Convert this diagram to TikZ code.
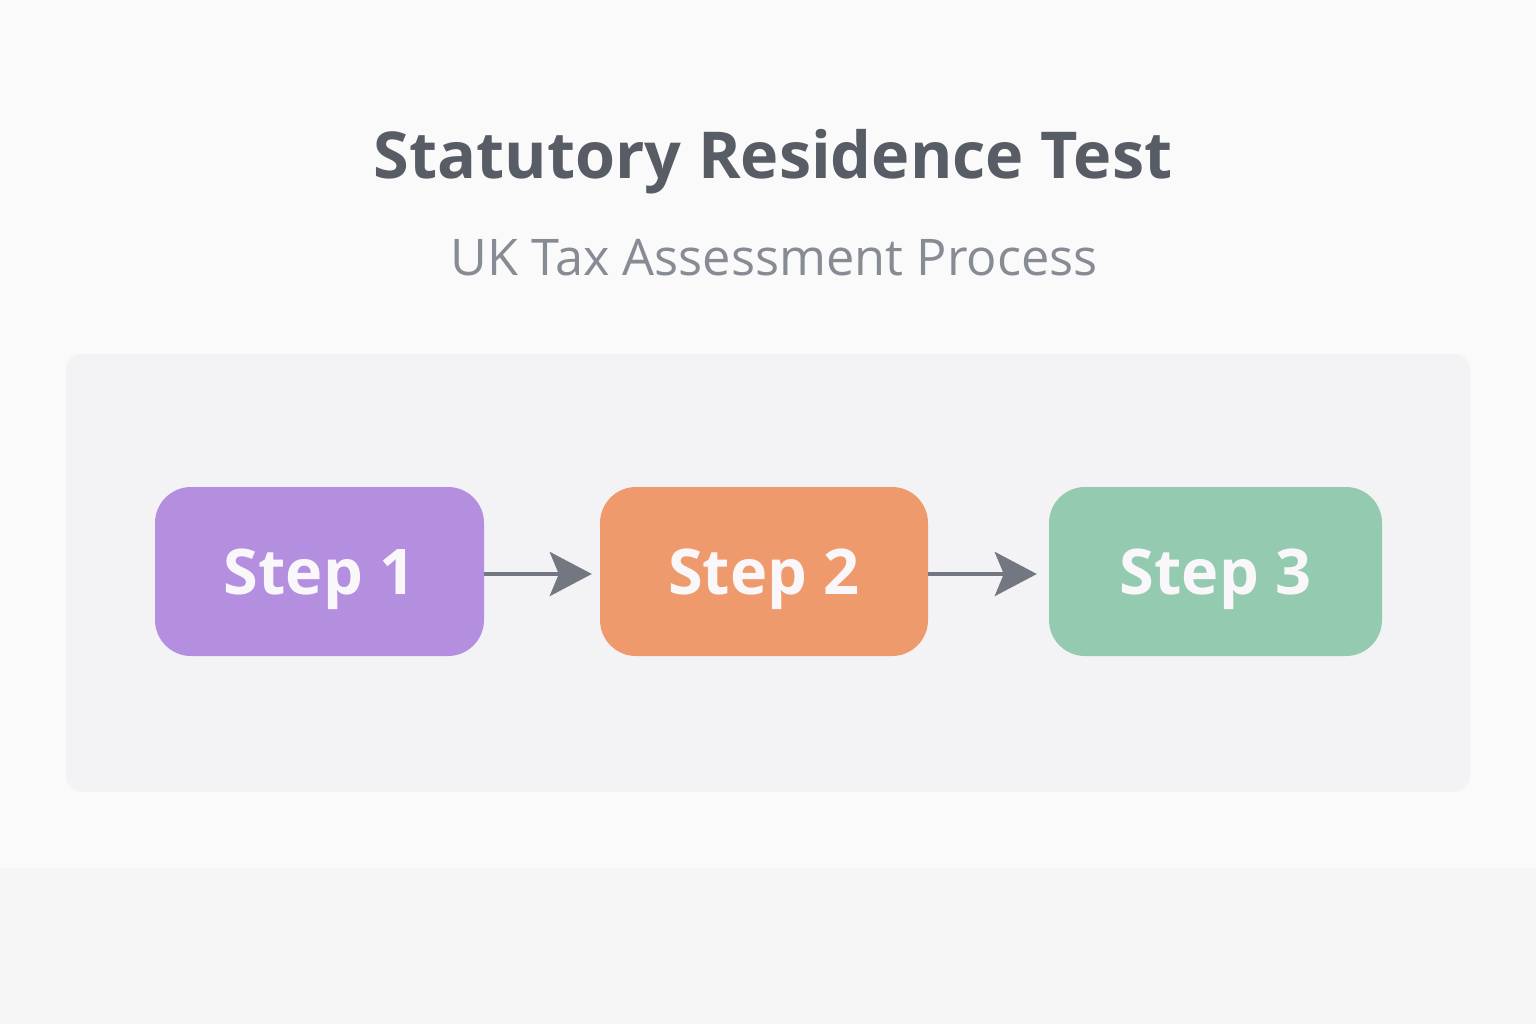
\documentclass[tikz,border=0pt]{standalone}
\usepackage{fontspec}
\setmainfont{Open Sans}
\usetikzlibrary{arrows.meta}
\definecolor{bgc}{HTML}{FAFAFB}
\definecolor{bandc}{HTML}{F5F6F5}
\definecolor{panelc}{HTML}{F3F3F5}
\definecolor{titlec}{HTML}{575C65}
\definecolor{subc}{HTML}{878B93}
\definecolor{purplec}{HTML}{B48FE0}
\definecolor{orangec}{HTML}{EE9A6C}
\definecolor{greenc}{HTML}{94CBB0}
\definecolor{arrowc}{HTML}{737781}
\definecolor{stxt}{HTML}{F9F7FA}
\tikzset{
  stepbox/.style={rectangle, rounded corners=36pt, inner sep=0pt, text=stxt,
    minimum height=169pt, text height=45pt, text depth=0pt,
    font=\fontsize{63}{70}\selectfont\bfseries},
  flow/.style={draw=arrowc, line width=4.5pt,
    -{Stealth[length=42pt,width=44pt,inset=9pt]}}
}
\begin{document}
\begin{tikzpicture}[x=1pt,y=-1pt]
\useasboundingbox (0,0) rectangle (1536,1024);
\fill[bgc] (0,0) rectangle (1536,1024);
\fill[bandc] (0,868) rectangle (1536,1024);
\fill[panelc, rounded corners=16pt] (66,354) rectangle (1470,792);
\node[text=titlec, font=\fontsize{64.7}{72}\selectfont\bfseries] (title) at (773,162) {Statutory Residence Test};
\node[text=subc, font=\fontsize{50.5}{56}\selectfont] (sub) at (774,258) {UK Tax Assessment Process};
\node[stepbox, fill=purplec, minimum width=329pt] (s1) at (319.5,571.5) {Step 1};
\node[stepbox, fill=orangec, minimum width=328pt] (s2) at (764,571.5) {Step 2};
\node[stepbox, fill=greenc, minimum width=333pt] (s3) at (1215.5,571.5) {Step 3};
\draw[flow, shorten >=8pt] (s1.east |- 0,574) -- (s2.west |- 0,574);
\draw[flow, shorten >=12pt] (s2.east |- 0,574) -- (s3.west |- 0,574);
\end{tikzpicture}
\end{document}
